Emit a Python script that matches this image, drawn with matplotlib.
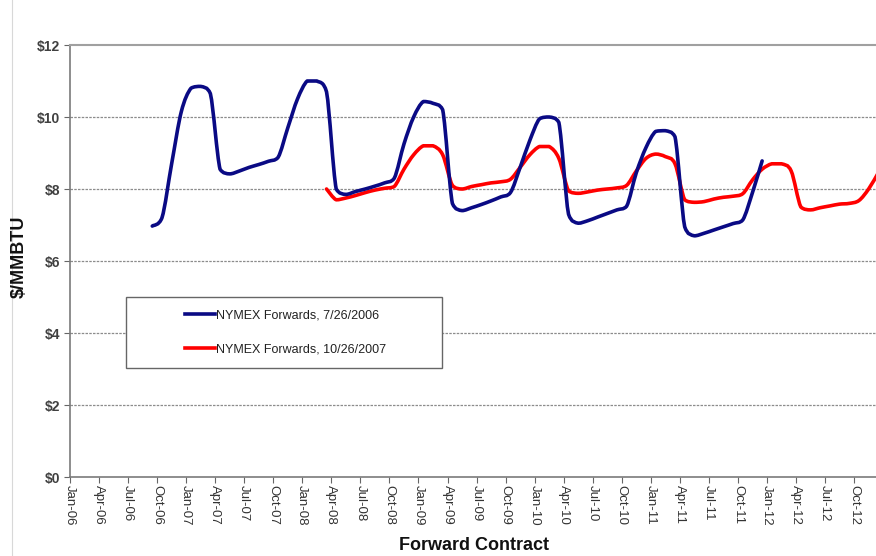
import numpy as np
import matplotlib
matplotlib.use("Agg")
from matplotlib import pyplot as plt
from matplotlib.path import Path
from matplotlib.patches import PathPatch, Rectangle
from matplotlib.lines import Line2D

plt.rcParams['font.family'] = ['Liberation Sans', 'DejaVu Sans']

# meses contados desde Jan-06 (0)
TICK_LABELS = ["Jan-06", "Apr-06", "Jul-06", "Oct-06", "Jan-07", "Apr-07", "Jul-07", "Oct-07",
               "Jan-08", "Apr-08", "Jul-08", "Oct-08", "Jan-09", "Apr-09", "Jul-09", "Oct-09",
               "Jan-10", "Apr-10", "Jul-10", "Oct-10", "Jan-11", "Apr-11", "Jul-11", "Oct-11",
               "Jan-12", "Apr-12", "Jul-12", "Oct-12"]
Y_TICKS = [0, 2, 4, 6, 8, 10, 12]

BLUE_LABEL = "NYMEX Forwards, 7/26/2006"
BLUE_START = 8  # Sep-06
BLUE = [6.97, 7.2, 8.7, 10.15, 10.8, 10.85, 10.65, 8.55, 8.42, 8.5, 8.6, 8.68, 8.77, 8.88,
        9.7, 10.5, 11.0, 11.0, 10.7, 8.0, 7.85, 7.93, 8.0, 8.08, 8.17, 8.3,
        9.25, 10.0, 10.43, 10.38, 10.2, 7.6, 7.4, 7.48, 7.57, 7.67, 7.78, 7.9,
        8.6, 9.35, 9.95, 10.0, 9.85, 7.3, 7.05, 7.12, 7.22, 7.32, 7.42, 7.52,
        8.45, 9.15, 9.6, 9.62, 9.45, 6.95, 6.7, 6.77, 6.86, 6.95, 7.04, 7.14,
        7.9, 8.78]

RED_LABEL = "NYMEX Forwards, 10/26/2007"
RED_START = 26  # Mar-08
RED = [8.0, 7.7, 7.75, 7.82, 7.9, 7.97, 8.02, 8.07, 8.55, 8.95, 9.2, 9.2, 8.95, 8.1,
       8.0, 8.07, 8.12, 8.17, 8.2, 8.27, 8.6, 8.95, 9.18, 9.18, 8.85, 7.95,
       7.88, 7.92, 7.97, 8.0, 8.03, 8.1, 8.5, 8.85, 8.97, 8.9, 8.7, 7.7,
       7.63, 7.65, 7.72, 7.77, 7.8, 7.87, 8.25, 8.55, 8.7, 8.7, 8.5, 7.5,
       7.42, 7.48, 7.53, 7.58, 7.6, 7.68, 8.0, 8.45]


def curva_suave(x, y):
    # linea suavizada (Catmull-Rom -> Bezier), sin pasarse de los puntos
    pts = np.column_stack([x, y]).astype(float)
    verts = [pts[0]]
    codes = [Path.MOVETO]
    n = len(pts)
    for i in range(n - 1):
        p0 = pts[max(i - 1, 0)]
        p1 = pts[i]
        p2 = pts[i + 1]
        p3 = pts[min(i + 2, n - 1)]
        c1 = p1 + (p2 - p0) / 6.0
        c2 = p2 - (p3 - p1) / 6.0
        lo, hi = min(p1[1], p2[1]), max(p1[1], p2[1])
        c1[1] = np.clip(c1[1], lo, hi)
        c2[1] = np.clip(c2[1], lo, hi)
        verts += [c1, c2, p2]
        codes += [Path.CURVE4] * 3
    return Path(verts, codes)


fig = plt.figure(figsize=(8.76, 5.56), dpi=100)
W, H = 876, 556
ax_left, ax_right, ax_top, ax_bottom = 70, 902.5, 45, 477
ax = fig.add_axes([ax_left / W, 1 - ax_bottom / H, (ax_right - ax_left) / W, (ax_bottom - ax_top) / H])
ax.set_xlim(0, 86)
ax.set_ylim(0, 12)

for y in Y_TICKS[1:-1]:
    ax.axhline(y, color='#8c8c8c', linestyle=(0, (2, 1)), linewidth=0.9, zorder=1)

x_azul = np.arange(BLUE_START, BLUE_START + len(BLUE)) + 0.5
x_rojo = np.arange(RED_START, RED_START + len(RED)) + 0.5
azul = '#0a0a84'
rojo = '#ff0000'
ax.add_patch(PathPatch(curva_suave(x_azul, BLUE), facecolor='none', edgecolor=azul,
                       linewidth=2.6, capstyle='round', joinstyle='round', zorder=4))
ax.add_patch(PathPatch(curva_suave(x_rojo, RED), facecolor='none', edgecolor=rojo,
                       linewidth=2.6, capstyle='round', joinstyle='round', zorder=3))

# caja de leyenda
ax.add_patch(Rectangle((5.8, 3.03), 32.6, 1.97, facecolor='white', edgecolor='#666666',
                       linewidth=1.0, zorder=5))
handles = [Line2D([], [], color=azul, linewidth=2.6), Line2D([], [], color=rojo, linewidth=2.6)]
leg = ax.legend(handles, [BLUE_LABEL, RED_LABEL], loc='center', bbox_to_anchor=(22.3, 4.02),
                bbox_transform=ax.transData, frameon=False, fontsize=9, labelspacing=1.75,
                handlelength=2.4, handletextpad=0.05)
leg.set_zorder(6)
for t in leg.get_texts():
    t.set_color('#222222')

ax.set_xticks(np.arange(0, 3 * len(TICK_LABELS), 3))
ax.set_xticklabels(TICK_LABELS, rotation=-90, fontsize=9.5, color='#333333')
ax.set_yticks(Y_TICKS)
ax.set_yticklabels([f"${v}" for v in Y_TICKS], fontsize=10, color='#404040', fontweight='bold')
ax.tick_params(axis='x', length=4, color='#666666', pad=2)
ax.tick_params(axis='y', length=4, color='#666666', pad=3)

ax.spines['right'].set_visible(False)
ax.spines['left'].set_color('#7a7a7a')
ax.spines['bottom'].set_color('#7a7a7a')
ax.spines['top'].set_color('#a0a0a0')
ax.spines['left'].set_linewidth(1.2)
ax.spines['bottom'].set_linewidth(1.2)
ax.spines['top'].set_linewidth(1.5)

fig.text(19 / W, 1 - 257 / H, "$/MMBTU", rotation=90, ha='center', va='center',
         fontsize=13, fontweight='bold', color='#111111')
fig.text(474 / W, 1 - 545 / H, "Forward Contract", ha='center', va='center',
         fontsize=13, fontweight='bold', color='#111111')
fig.add_artist(Line2D([12 / W, 12 / W], [0, 1], color='#d8d8d8', linewidth=0.8))

fig.savefig("out.png", dpi=100)
